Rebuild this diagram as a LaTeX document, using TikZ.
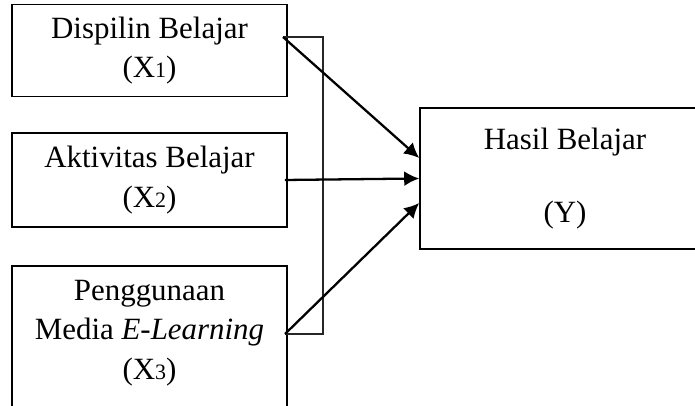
\documentclass[tikz,border=0pt]{standalone}
\usepackage{fontspec}
\setmainfont{Liberation Serif}
\usepackage{tikz}
\usetikzlibrary{arrows.meta}
\newcommand{\idx}[1]{{\fontsize{12.5}{12.5}\selectfont #1}}

\begin{document}
\begin{tikzpicture}[
					varbox/.style={rectangle, draw=black, line width=1.05pt, align=center, font=\fontsize{17.6}{22.3}\selectfont},
					arrowline/.style={line width=1.3pt, -{Latex[length=0.3cm,width=0.3cm]}},
					bracketline/.style={line width=0.7pt, draw=black!85},
					]
					\useasboundingbox (0,0) rectangle (13.9,8.12);
					%Nodes
					\node[varbox, minimum width=5.5cm, minimum height=1.84cm] (x1) at (2.99,7.11) {Dispilin Belajar\\(X\idx{1})};
					\node[varbox, minimum width=5.5cm, minimum height=1.88cm] (x2) at (2.99,4.52) {Aktivitas Belajar\\(X\idx{2})};
					\node[varbox, minimum width=5.5cm, anchor=north, inner ysep=0.29cm, text depth=3cm] (x3) at (2.99,2.82) {Penggunaan\\Media \emph{E-Learning}\\(X\idx{3})};
					\node[varbox, line width=0.9pt, minimum width=5.8cm, minimum height=2.82cm] (y) at (11.3,4.55) {Hasil Belajar\\[19pt](Y)};
					\coordinate (s1) at (5.66,7.38);
					\coordinate (s3) at (5.70,1.44);
					\coordinate (b1) at (6.46,7.38);
					\coordinate (b3) at (6.46,1.44);
					
					%Lines
					\draw[bracketline] (s1) -- (b1) -- (b3) -- (s3);
					\draw[arrowline] (s1) -- ([yshift=0.41cm]y.west);
					\draw[arrowline] ([xshift=-0.06cm]x2.east) -- (y.west);
					\draw[arrowline] (s3) -- ([yshift=-0.49cm]y.west);
				\end{tikzpicture}
\end{document}
